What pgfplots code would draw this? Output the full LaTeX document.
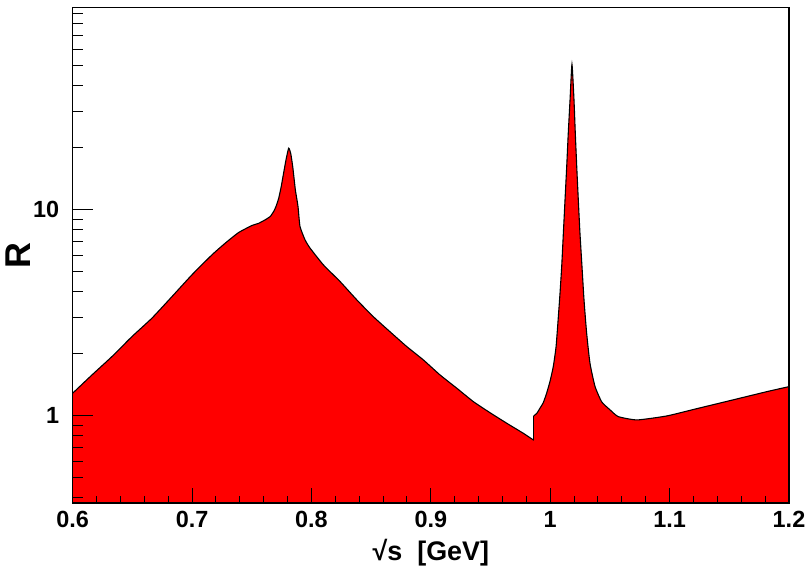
\documentclass[border=0pt]{standalone}
\usepackage{pgfplots}
\pgfplotsset{compat=1.18}
\usepackage{fontspec}
\setmainfont{Liberation Sans}
\pgfplotstableread{
x y
0.6000 1.289
0.6162 1.581
0.6329 1.941
0.6497 2.427
0.6664 2.981
0.6832 3.794
0.6999 4.836
0.7167 6.047
0.7278 6.891
0.7390 7.759
0.7502 8.391
0.7558 8.60
0.7613 8.944
0.7655 9.28
0.7684 9.83
0.7703 10.38
0.7726 11.4
0.7747 13.0
0.7767 15.1
0.7787 17.5
0.7809 19.9
0.7826 18.8
0.7843 16.2
0.7865 12.5
0.7887 10.4
0.7904 8.30
0.7946 7.15
0.7988 6.52
0.8099 5.41
0.8239 4.49
0.8379 3.66
0.8518 3.03
0.8658 2.56
0.8798 2.17
0.8937 1.87
0.9077 1.58
0.9217 1.363
0.9356 1.173
0.9495 1.037
0.9635 0.922
0.9774 0.824
0.9862 0.762
}\rhotable
\pgfplotstableread{
x y
0.9862 1.000
0.9888 1.03
0.9914 1.09
0.9942 1.16
0.9970 1.29
0.9998 1.47
1.0026 1.74
1.0049 2.17
1.0068 3.03
1.0082 3.94
1.0096 5.30
1.0110 7.71
1.0124 11.2
1.0138 16.2
1.0151 23.5
1.0166 34.2
1.0182 50.8
1.0199 34.2
1.0210 23.5
1.0222 16.2
1.0235 11.2
1.0249 7.71
1.0266 5.30
1.0283 3.65
1.0305 2.52
1.0333 1.80
1.0375 1.39
1.0431 1.17
1.0501 1.07
1.0570 0.992
1.0727 0.956
1.0978 1.000
1.1255 1.094
1.1531 1.196
1.1816 1.312
1.2000 1.387
}\phitable
\begin{document}
\begin{tikzpicture}
\useasboundingbox (-72.7bp,-66bp) rectangle (732.3bp,503bp);
\begin{axis}[
  at={(0,0)}, anchor=south west,
  scale only axis, width=716.3bp, height=495.7bp,
  xmin=0.6, xmax=1.2, ymode=log, ymin=0.378, ymax=96,
  xtick={0.6,0.7,0.8,0.9,1.0,1.1,1.2},
  xticklabels={0.6,0.7,0.8,0.9,1,1.1,1.2},
  minor x tick num=4,
  ytick={1,10}, yticklabels={1,10},
  minor ytick={0.4,0.5,0.6,0.7,0.8,0.9,2,3,4,5,6,7,8,9,20,30,40,50,60,70,80,90},
  xtick pos=left, ytick pos=left,
  tick align=inside,
  axis line style={line width=1.2bp},
  every tick/.style={black, line width=1bp},
  xtick style={/pgfplots/major tick length=15bp,/pgfplots/minor tick length=7.5bp},
  ytick style={/pgfplots/major tick length=20bp,/pgfplots/minor tick length=10bp},
  ticklabel style={font=\bfseries\fontsize{23.5}{23.5}\selectfont},
  xticklabel style={yshift=-5bp},
  yticklabel style={xshift=-10bp},
  xlabel={\bfseries\fontsize{27}{27}\selectfont √s\ \ [GeV]},
  ylabel={\bfseries\fontsize{36}{36}\selectfont R},
  xlabel style={yshift=-4bp},
  ylabel style={yshift=-4bp},
  axis on top,
  clip=true,
]
\addplot[fill=red, draw=none, smooth, tension=0.3] table {\rhotable} |- (axis cs:0.6,0.3) -- cycle;
\addplot[fill=red, draw=none, smooth, tension=0.3] table {\phitable} |- (axis cs:0.9862,0.3) -- cycle;
\addplot[draw=black, line width=1.1bp, smooth, tension=0.3] table {\rhotable};
\addplot[draw=black, line width=1.1bp] coordinates {(0.9862,0.762) (0.9862,1.000)};
\addplot[draw=black, line width=1.1bp, smooth, tension=0.3] table {\phitable};
\end{axis}
\end{tikzpicture}
\end{document}
